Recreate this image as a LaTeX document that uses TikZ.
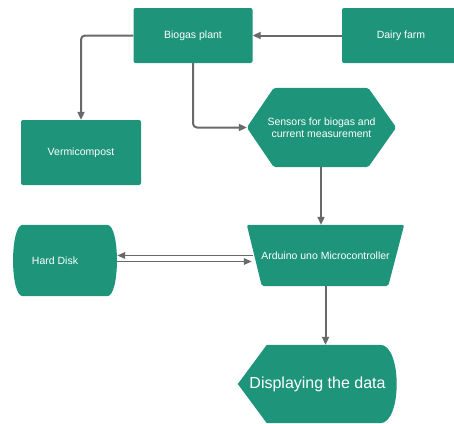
\documentclass[tikz,border=0pt]{standalone}
\usepackage{fontspec}
\setmainfont{Liberation Sans}
\usetikzlibrary{arrows.meta,backgrounds}
\definecolor{tealfill}{RGB}{30,148,122}
\definecolor{conncol}{RGB}{105,105,105}
\begin{document}
\begin{tikzpicture}[x=1pt,y=-1pt,
  box/.style={fill=tealfill, rounded corners=2pt},
  ghost/.style={inner sep=0pt},
  lbl/.style={text=white, font=\fontsize{10.5}{12.5}\selectfont, align=center},
  shp/.style={fill=tealfill, rounded corners=2pt},
  conn/.style={draw=conncol, line width=2pt, -{Triangle[length=8pt,width=7pt]}, rounded corners=4pt},
  thin/.style={draw=conncol, line width=1.6pt, -{Triangle[length=8pt,width=6.5pt]}},
]
\useasboundingbox (0,0) rectangle (454,423);

% rectangles
\node[box, ghost, lbl, minimum width=119pt, minimum height=55pt] (bio) at (193,35.5) {Biogas plant};
\node[box, ghost, lbl, minimum width=118pt, minimum height=55pt] (dai) at (401,35.5) {Dairy farm};
\node[box, ghost, lbl, minimum width=120pt, minimum height=65pt] (ver) at (81,152.5) {Vermicompost};

% hexagon
\node[ghost, lbl, minimum width=149pt, minimum height=79pt] (sen) at (321.5,127.5) {Sensors for biogas and\\current measurement};
% trapezoid
\node[ghost, lbl, minimum width=157pt, minimum height=61pt] (ard) at (325.5,255.5) {Arduino uno Microcontroller};
% hard disk
\node[ghost, lbl, minimum width=104pt, minimum height=71pt] (hd) at (65,260.5) {Hard Disk\hspace{20pt}};
% display
\node[ghost, lbl, font=\fontsize{16}{19}\selectfont, minimum width=159pt, minimum height=78pt] (dis) at (317.5,384) {Displaying the data};

\begin{scope}[on background layer]
  \fill[shp] (sen.west) -- ([xshift=27pt]sen.north west) -- ([xshift=-28pt]sen.north east)
     -- (sen.east) -- ([xshift=-28pt]sen.south east) -- ([xshift=27pt]sen.south west) -- cycle;
  \fill[shp] (ard.north west) -- (ard.north east) -- ([xshift=-16pt]ard.south east)
     -- ([xshift=15pt]ard.south west) -- cycle;
  \fill[tealfill] ([xshift=10pt]hd.north west) -- ([xshift=-10pt]hd.north east)
     .. controls ([xshift=3pt]hd.north east) and ([xshift=3pt]hd.south east) .. ([xshift=-10pt]hd.south east)
     -- ([xshift=10pt]hd.south west)
     .. controls ([xshift=-3pt]hd.south west) and ([xshift=-3pt]hd.north west) .. cycle;
  \fill[tealfill] (dis.west) -- ([xshift=29pt]dis.north west) -- ([xshift=-17pt]dis.north east)
     .. controls ([xshift=5pt]dis.north east) and ([xshift=5pt]dis.south east) .. ([xshift=-17pt]dis.south east)
     -- ([xshift=29pt]dis.south west) -- cycle;
\end{scope}

% connectors
\draw[conn] (dai.west) -- (bio.east);
\draw[conn] (bio.west) -| (ver.north);
\draw[conn] (bio.south) |- (sen.west);
\draw[conn] ([xshift=-0.5pt]sen.south) -- ([xshift=-0.5pt]sen.south |- ard.north);
\draw[conn] (ard.south) -- (ard.south |- dis.north);
\draw[thin] ([xshift=6pt]ard.west) -- (ard.west -| hd.east);
\draw[thin] ([yshift=-6pt]ard.west -| hd.east) -- ([xshift=5pt,yshift=-6pt]ard.west);
\end{tikzpicture}
\end{document}
